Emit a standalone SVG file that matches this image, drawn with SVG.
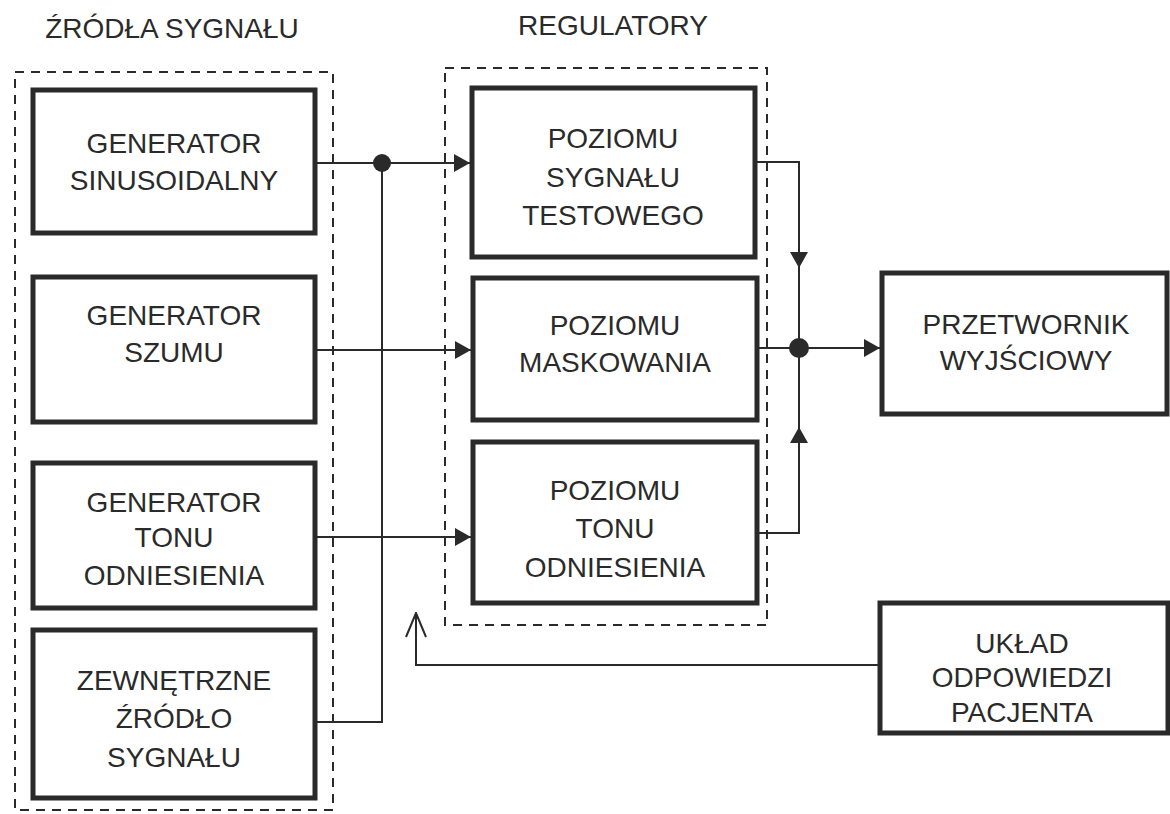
<svg xmlns="http://www.w3.org/2000/svg" width="1170" height="814" viewBox="0 0 1170 814">
<style>
.box{fill:#fff;stroke:#2a2a2a;stroke-width:5}
.grp{fill:none;stroke:#2a2a2a;stroke-width:2;stroke-dasharray:9 7}
.ln{fill:none;stroke:#2a2a2a;stroke-width:2}
.dot{fill:#2a2a2a}
text{font-family:"Liberation Sans",Arial,sans-serif;font-size:28px;fill:#2a2a2a;text-anchor:middle}
</style>
<defs>
<marker id="arr" viewBox="0 0 16 18" refX="16" refY="9" markerWidth="16" markerHeight="18" markerUnits="userSpaceOnUse" orient="auto">
<path d="M0,0 L16,9 L0,18 Z" fill="#2a2a2a"/>
</marker>
<marker id="open" viewBox="0 0 22 26" refX="11" refY="1" markerWidth="22" markerHeight="26" markerUnits="userSpaceOnUse" orient="0">
<path d="M1,25 L11,1 L21,25" fill="none" stroke="#2a2a2a" stroke-width="2"/>
</marker>
</defs>
<g id="titles">
<text x="172" y="38">ŹRÓDŁA SYGNAŁU</text>
<text x="613" y="35">REGULATORY</text>
</g>
<g id="groups">
<rect class="grp" x="15" y="72" width="318" height="738"/>
<rect class="grp" x="445" y="68" width="322" height="557"/>
</g>
<g id="gen-sin"><rect class="box" x="33" y="90" width="282" height="143"/><text x="174" y="153">GENERATOR</text><text x="174" y="190">SINUSOIDALNY</text></g>
<g id="gen-szum"><rect class="box" x="33" y="277" width="282" height="145"/><text x="174" y="325">GENERATOR</text><text x="174" y="362">SZUMU</text></g>
<g id="gen-ton"><rect class="box" x="33" y="463" width="282" height="145"/><text x="174" y="512">GENERATOR</text><text x="174" y="547">TONU</text><text x="174" y="585">ODNIESIENIA</text></g>
<g id="zewn"><rect class="box" x="33" y="630" width="282" height="168"/><text x="174" y="690">ZEWNĘTRZNE</text><text x="174" y="728">ŹRÓDŁO</text><text x="174" y="767">SYGNAŁU</text></g>
<g id="reg-test"><rect class="box" x="472" y="88" width="283" height="169"/><text x="613" y="148">POZIOMU</text><text x="613" y="187">SYGNAŁU</text><text x="613" y="225">TESTOWEGO</text></g>
<g id="reg-mask"><rect class="box" x="473" y="278" width="284" height="142"/><text x="615" y="335">POZIOMU</text><text x="615" y="372">MASKOWANIA</text></g>
<g id="reg-ton"><rect class="box" x="473" y="442" width="284" height="161"/><text x="615" y="500">POZIOMU</text><text x="615" y="538">TONU</text><text x="615" y="577">ODNIESIENIA</text></g>
<g id="przetwornik"><rect class="box" x="882" y="273" width="285" height="141"/><text x="1026" y="334">PRZETWORNIK</text><text x="1026" y="370">WYJŚCIOWY</text></g>
<g id="uklad"><rect class="box" x="880" y="603" width="288" height="130"/><text x="1022" y="653">UKŁAD</text><text x="1022" y="687">ODPOWIEDZI</text><text x="1022" y="722">PACJENTA</text></g>
<g id="connectors">
<path class="ln" d="M316,163 H470" marker-end="url(#arr)"/>
<path class="ln" d="M382,163 V722 H316"/>
<circle class="dot" cx="382" cy="163" r="9"/>
<path class="ln" d="M316,350 H471" marker-end="url(#arr)"/>
<path class="ln" d="M316,537 H471" marker-end="url(#arr)"/>
<path class="ln" d="M757,162 H799 V268" marker-end="url(#arr)"/>
<path class="ln" d="M799,268 V427"/>
<path class="ln" d="M757,533 H799 V427" marker-end="url(#arr)"/>
<path class="ln" d="M759,348 H880" marker-end="url(#arr)"/>
<circle class="dot" cx="799" cy="348" r="10"/>
<path class="ln" d="M878,665 H416 V613" marker-end="url(#open)"/>
</g>
</svg>
